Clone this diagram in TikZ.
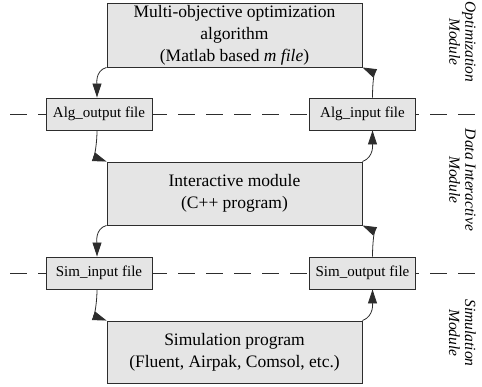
\documentclass[tikz,border=0pt]{standalone}
\usepackage{fontspec}
\setmainfont{Liberation Serif}
\usetikzlibrary{arrows.meta,positioning}
\definecolor{boxgray}{RGB}{229,229,229}
\definecolor{edgegray}{RGB}{45,45,45}

\begin{document}
\begin{tikzpicture}[x=1pt,y=1pt,
    module/.style={draw=edgegray,fill=boxgray,line width=0.9pt,minimum width=255pt,inner sep=0pt,align=center,font=\fontsize{17.5}{22}\selectfont},
    filebox/.style={draw=edgegray,fill=boxgray,line width=0.9pt,minimum width=106pt,minimum height=32pt,inner sep=0pt,font=\fontsize{15}{18}\selectfont},
    flow/.style={-{Triangle[length=14pt,width=9pt]},line width=0.8pt,edgegray},
    divider/.style={edgegray,line width=0.9pt,dash pattern=on 17pt off 11pt},
    side/.style={rotate=-90,align=center,font=\fontsize{15.5}{16}\selectfont\itshape}]
    \useasboundingbox (0,0) rectangle (482,387);

    % Module borders
    \foreach \y/\n in {273/a,114/b} {
        \coordinate (cut\n1) at (10,\y);
        \coordinate (cut\n2) at (482,\y);
        \draw[divider] (cut\n1) -- (cut\n2);
    }

    % Program blocks
    \node[module,minimum height=64pt] (opt) at (234.5,352) {Multi-objective optimization\\algorithm\\(Matlab based \textit{m file})};
    \node[module,minimum height=63pt] (inter) at (234.5,193.5) {Interactive module\\(C++ program)};
    \node[module,minimum height=62pt] (simu) at (234.5,35) {Simulation program\\(Fluent, Airpak, Comsol, etc.)};

    % Exchange files
    \node[filebox] (algout) at (99,273) {Alg\_output file};
    \node[filebox] (algin) at (362.5,273) {Alg\_input file};
    \node[filebox] (simin) at (99,114) {Sim\_input file};
    \node[filebox] (simout) at (362.5,114) {Sim\_output file};

    % Data flow
    \foreach \up/\fout/\fin/\down in {opt/algout/algin/inter, inter/simin/simout/simu} {
        \draw[flow] (\up.south west) to[out=-165,in=90] ([xshift=-2]\fout.north);
        \draw[flow] ([xshift=-2]\fout.south) to[out=-90,in=160] (\down.north west);
        \draw[flow] (\down.north east) to[out=20,in=-90] ([xshift=10]\fin.south);
        \draw[flow] ([xshift=10]\fin.north) to[out=90,in=-25] (\up.south east);
    }

    % Labels
    \node[side] (optlab) at (462.5,345) {Optimization\\Module};
    \node[side] (datalab) at (462.5,207) {Data Interactive\\Module};
    \node[side] (simlab) at (462.5,54) {Simulation\\Module};
\end{tikzpicture}
\end{document}
